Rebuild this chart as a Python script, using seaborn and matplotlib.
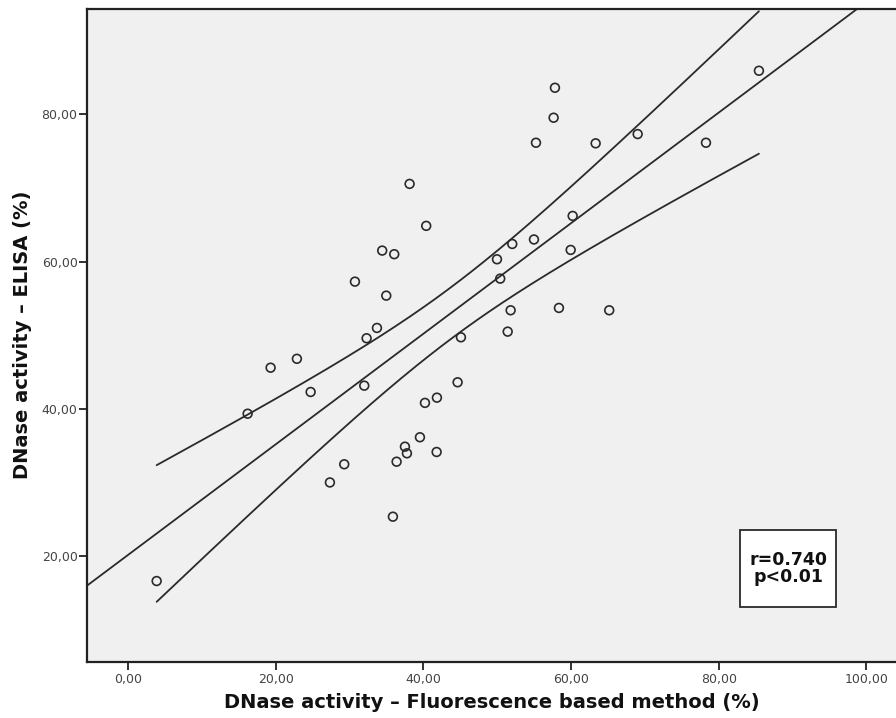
import numpy as np
import pandas as pd
import matplotlib
matplotlib.use("Agg")
import matplotlib.pyplot as plt
import matplotlib.ticker as mticker
from matplotlib.patches import Rectangle
import seaborn as sns

# Values
fluor = [3.89, 16.21, 19.32, 22.88, 24.74, 27.35, 29.29, 30.74, 32.00, 32.32,
         33.72, 34.43, 34.98, 35.88, 36.06, 36.38, 37.51, 37.78, 38.14, 39.54,
         40.22, 40.39, 41.80, 41.84, 44.64, 45.09, 49.97, 50.41, 51.42, 51.82,
         52.04, 54.98, 55.25, 57.64, 57.82, 58.36, 59.95, 60.22, 63.33, 65.17,
         69.02, 78.27, 85.44]
elisa = [16.60, 39.33, 45.58, 46.79, 42.28, 29.99, 32.46, 57.27, 43.14, 49.58,
         50.98, 61.49, 55.37, 25.34, 61.00, 32.81, 34.85, 33.95, 70.55, 36.13,
         40.80, 64.85, 34.13, 41.51, 43.60, 49.71, 60.31, 57.68, 50.48, 53.38,
         62.39, 63.00, 76.14, 79.54, 83.61, 53.70, 61.58, 66.20, 76.06, 53.38,
         77.32, 76.14, 85.92]
x_ticks = [0, 20, 40, 60, 80, 100]
y_ticks = [20, 40, 60, 80]
stat_text = "r=0.740\np<0.01"

df = pd.DataFrame({"x": fluor, "y": elisa})

# linear fit + 95% CI of the mean
x = df["x"].to_numpy()
y = df["y"].to_numpy()
n = len(x)
slope, intercept = np.polyfit(x, y, 1)
resid = y - (intercept + slope * x)
s_err = np.sqrt(np.sum(resid ** 2) / (n - 2))
sxx = np.sum((x - x.mean()) ** 2)
t_crit = 2.0195  # t(0.975, df=41)

xlim = (-5.5, 104.0)
ylim = (5.64, 94.35)

x_line = np.linspace(xlim[0], xlim[1], 200)
fit_df = pd.DataFrame({"x": x_line, "y": intercept + slope * x_line})
x_ci = np.linspace(x.min(), x.max(), 200)
half = t_crit * s_err * np.sqrt(1 / n + (x_ci - x.mean()) ** 2 / sxx)
ci_df = pd.DataFrame({"x": x_ci, "lo": intercept + slope * x_ci - half,
                      "hi": intercept + slope * x_ci + half})

sns.set_style("ticks", {"axes.facecolor": "#f0f0f0", "axes.edgecolor": "#222222"})
plt.rcParams["font.family"] = ["DejaVu Sans"]

fig = plt.figure(figsize=(8.96, 7.18), dpi=100)
ax = fig.add_axes([87.3 / 896, 1 - 661.7 / 718, 1 - 87.3 / 896, 653 / 718])

line_kw = dict(color="#2a2a2a", linewidth=1.3, ax=ax, legend=False)
sns.lineplot(data=fit_df, x="x", y="y", **line_kw)
sns.lineplot(data=ci_df, x="x", y="lo", **line_kw)
sns.lineplot(data=ci_df, x="x", y="hi", **line_kw)
sns.scatterplot(data=df, x="x", y="y", ax=ax, marker="o", s=40,
                facecolor="none", edgecolor="#2a2a2a", linewidth=1.2, zorder=3)

ax.set_xlim(*xlim)
ax.set_ylim(*ylim)
ax.set_xticks(x_ticks)
ax.set_yticks(y_ticks)
fmt = mticker.FuncFormatter(lambda v, p: f"{v:.2f}".replace(".", ","))
ax.xaxis.set_major_formatter(fmt)
ax.yaxis.set_major_formatter(fmt)
ax.tick_params(axis="both", length=6, width=1.3, color="#222222",
               labelsize=9, labelcolor="#444444")
ax.tick_params(axis="y", pad=1)
ax.tick_params(axis="x", pad=2)
for side in ["left", "bottom", "top"]:
    ax.spines[side].set_linewidth(1.6)
ax.spines["right"].set_visible(False)

ax.set_xlabel("DNase activity – Fluorescence based method (%)",
              fontsize=14, fontweight="bold", color="#111111", labelpad=5)
ax.set_ylabel("DNase activity – ELISA (%)",
              fontsize=14, fontweight="bold", color="#111111", labelpad=7)

ax.add_patch(Rectangle((0.807, 0.0833), 0.119, 0.1184, transform=ax.transAxes,
                       facecolor="white", edgecolor="#2a2a2a", linewidth=1.3, zorder=4))
ax.text(0.8665, 0.1425, stat_text, transform=ax.transAxes, ha="center", va="center",
        fontsize=12.5, fontweight="bold", color="#111111", linespacing=0.95, zorder=5)

fig.savefig("out.png", dpi=100)
